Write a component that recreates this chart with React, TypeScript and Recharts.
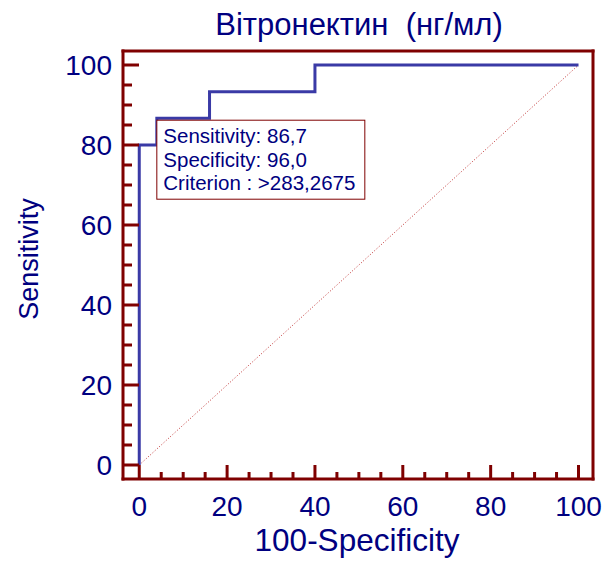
import React from 'react';
import { ComposedChart, Line, XAxis, YAxis, ReferenceDot, ReferenceLine } from 'recharts';

// ROC curve points (100-Specificity, Sensitivity)
const fpr = [0, 0, 4, 16, 40, 100];
const tpr = [0, 80, 86.7, 93.3, 100, 100];
// reference diagonal
const diagX = [0, 100];
const diagY = [0, 100];
// axis ticks
const tickValues = [0, 5, 10, 15, 20, 25, 30, 35, 40, 45, 50, 55, 60, 65, 70, 75, 80, 85, 90, 95, 100];
const majorTicks = [0, 20, 40, 60, 80, 100];
// axis ranges
const xDomain = [-3.7, 103.3];
const yDomain = [-3.5, 103.5];
// texts
const title = 'Вітронектин  (нг/мл)';
const xLabel = '100-Specificity';
const yLabel = 'Sensitivity';
const infoLines = ['Sensitivity: 86,7', 'Specificity: 96,0', 'Criterion : >283,2675'];
// optimal criterion point
const optX = 4;
const optY = 86.7;

const rocData = fpr.map((x, i) => ({ x, y: tpr[i] }));
const diagData = diagX.map((x, i) => ({ x, y: diagY[i] }));

const FONT = '"Liberation Sans", Arial, sans-serif';
const NAVY = '#000080';
const MAROON = '#7f0000';
const CURVE = '#3a3aa6';

const XTick = (props: any) => {
  const { x, y, payload } = props;
  const v = payload.value;
  const major = majorTicks.includes(v);
  return (
    <g>
      <line x1={x} x2={x} y1={y} y2={y - (major ? 14 : 7)} stroke={MAROON} strokeWidth={3} />
      {major && (
        <text x={x} y={y + 37} textAnchor="middle" fontFamily={FONT} fontSize={28} fill={NAVY}>
          {v}
        </text>
      )}
    </g>
  );
};

const YTick = (props: any) => {
  const { x, y, payload } = props;
  const v = payload.value;
  const major = majorTicks.includes(v);
  return (
    <g>
      <line x1={x} x2={x + (major ? 16 : 9)} y1={y} y2={y} stroke={MAROON} strokeWidth={3} />
      {major && (
        <text x={x - 11} y={y} dy="0.35em" textAnchor="end" fontFamily={FONT} fontSize={28} fill={NAVY}>
          {v}
        </text>
      )}
    </g>
  );
};

const InfoBox = (props: any) => {
  const { cx, cy } = props;
  const bx = cx;
  const by = cy + 2;
  return (
    <g>
      <rect x={bx} y={by} width={208} height={79} fill="#ffffff" stroke={MAROON} strokeWidth={1} />
      {infoLines.map((t, i) => (
        <text key={i} x={bx + 6.5} y={by + 23 + i * 23.5} fontFamily={FONT} fontSize={20.5} fill={NAVY}>
          {t}
        </text>
      ))}
    </g>
  );
};

const axisLine = { stroke: MAROON, strokeWidth: 3, strokeLinecap: 'square' as const };

export default function App() {
  return (
    <div style={{ position: 'absolute', left: 0, top: 0, width: 606, height: 561, background: '#fff' }}>
      <ComposedChart
        width={606}
        height={561}
        margin={{ top: 51, right: 13, bottom: 22, left: 63 }}
      >
        <XAxis
          dataKey="x"
          type="number"
          domain={xDomain}
          ticks={tickValues}
          interval={0}
          allowDataOverflow
          height={60}
          tickSize={0}
          tickMargin={0}
          tickLine={false}
          axisLine={axisLine}
          tick={<XTick />}
          label={(p: any) => {
            const vb = p.viewBox;
            return (
              <text x={vb.x + vb.width / 2 - 1} y={vb.y + 72} textAnchor="middle" fontFamily={FONT} fontSize={31.5} fill={NAVY}>
                {xLabel}
              </text>
            );
          }}
        />
        <YAxis
          type="number"
          domain={yDomain}
          ticks={tickValues}
          interval={0}
          allowDataOverflow
          width={60}
          tickSize={0}
          tickMargin={0}
          tickLine={false}
          axisLine={axisLine}
          tick={<YTick />}
          label={(p: any) => {
            const vb = p.viewBox;
            const lx = vb.x + vb.width - 85;
            const ly = vb.y + vb.height / 2 - 6;
            return (
              <text x={lx} y={ly} transform={`rotate(-90, ${lx}, ${ly})`} textAnchor="middle" fontFamily={FONT} fontSize={27} fill={NAVY}>
                {yLabel}
              </text>
            );
          }}
        />
        <ReferenceLine
          y={yDomain[1]}
          stroke={MAROON}
          strokeWidth={3}
          strokeLinecap="square"
          label={(p: any) => {
            const vb = p.viewBox;
            return (
              <text x={vb.x + vb.width / 2 + 1} y={vb.y - 16} textAnchor="middle" fontFamily={FONT} fontSize={31} fill={NAVY} style={{ whiteSpace: 'pre' }}>
                {title}
              </text>
            );
          }}
        />
        <ReferenceLine x={xDomain[1]} stroke={MAROON} strokeWidth={3} strokeLinecap="square" />
        <Line
          data={diagData}
          dataKey="y"
          type="linear"
          stroke="#c03030"
          strokeWidth={1}
          strokeDasharray="1 2"
          dot={false}
          activeDot={false}
          isAnimationActive={false}
        />
        <Line
          data={rocData}
          dataKey="y"
          type="stepAfter"
          stroke={CURVE}
          strokeWidth={3}
          dot={false}
          activeDot={false}
          isAnimationActive={false}
        />
        <ReferenceDot x={optX} y={optY} r={0} shape={<InfoBox />} />
      </ComposedChart>
    </div>
  );
}
